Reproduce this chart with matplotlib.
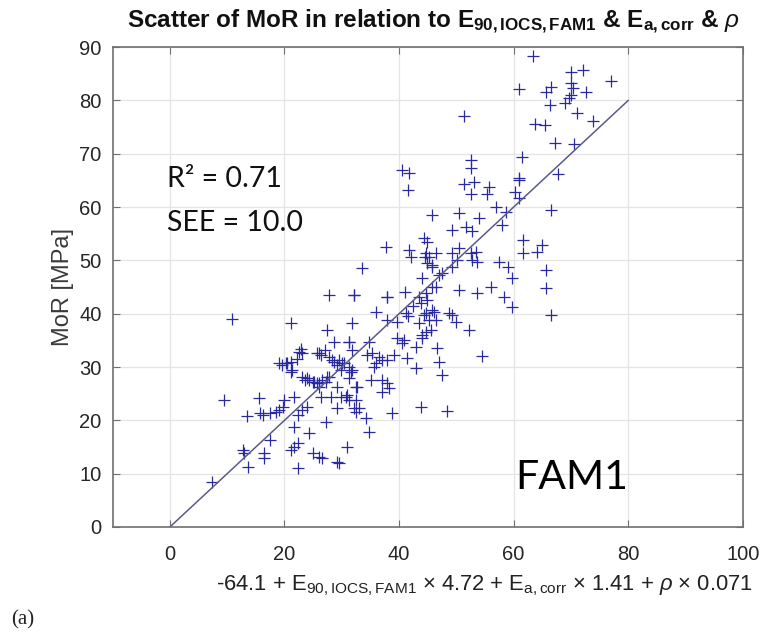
import numpy as np
import matplotlib
matplotlib.use("Agg")
import matplotlib.pyplot as plt

pred = [63.3, 70.1, 72.2, 77.0, 60.9, 65.6, 66.6, 70.1, 70.4, 70.1, 69.6, 72.7,
        66.4, 69.0, 71.0, 73.9, 63.8, 65.4, 67.3, 70.6, 61.4, 67.8, 52.5, 52.5,
        60.9, 51.3,
        51.3, 53.0, 52.5, 55.7, 55.3, 60.9, 60.3, 60.9, 57.0, 58.6, 57.9, 66.6,
        45.7, 50.4, 49.2, 51.7, 52.7, 53.9, 44.3, 44.9, 44.7, 45.2, 45.7, 49.2,
        50.4, 52.5, 52.7, 53.6, 53.4, 57.4, 59.1, 59.7, 61.7, 61.7, 64.0, 64.9,
        65.7, 65.7, 47.5, 47.0, 44.0, 50.4, 53.6, 56.0, 58.3, 45.7, 44.7, 59.7,
        66.6, 46.1, 49.2, 49.9, 52.2, 46.6, 47.0, 47.5, 54.4, 43.8, 48.3, 44.7,
        45.2, 45.6, 44.0,
        40.5, 41.7, 41.6, 41.7, 42.1, 44.5, 44.9, 46.4, 45.7, 37.7, 33.6, 32.2,
        37.9, 46.4, 49.2, 50.1, 43.5, 44.9, 41.0, 42.5, 41.5,
        36.0, 37.9, 39.7, 41.2, 31.8, 43.8, 43.5, 44.3, 45.7, 46.4, 44.7, 44.0,
        48.7, 39.7, 40.9, 40.5, 43.0, 31.3, 31.8, 34.8, 34.4, 35.3, 36.5, 37.0,
        37.9, 39.1, 41.4, 43.0, 36.0, 35.7, 31.3, 31.7, 31.3, 30.1, 29.6, 35.1,
        37.0, 37.9, 38.3, 37.0, 32.7, 30.8, 31.3, 32.2, 32.5, 34.3, 34.8, 31.0,
        29.6, 38.8,
        10.8, 21.2, 27.5, 28.7, 22.8, 23.0, 26.1, 27.0, 27.8, 19.1, 20.3, 21.2,
        22.1, 28.3, 29.2, 29.9, 21.2, 23.0, 23.5, 24.3, 25.2, 26.1, 26.6, 27.5,
        26.1, 9.4, 15.5, 20.0, 19.7, 19.1, 21.7, 13.4, 15.7, 16.2, 17.4, 18.6,
        26.4, 28.2, 29.2, 23.1, 22.3, 24.0, 21.7, 24.3, 27.3, 17.4, 22.3, 21.7,
        21.2, 12.7, 13.0, 16.5, 16.5, 13.6, 22.3, 24.9, 26.1, 26.6, 29.2, 7.3,
        29.9, 29.2,
        27.8, 31.3, 19.5, 20.5, 21.4, 22.6, 25.7, 26.4, 28.7, 30.4, 31.8, 32.5,
        31.0, 32.5, 33.0, 24.0, 24.9, 25.7, 27.3, 27.8, 32.2, 37.9]
mor = [88.3, 85.3, 85.7, 83.6, 82.1, 81.6, 82.5, 83.2, 82.3, 81.0, 80.4, 81.6,
       79.1, 79.5, 77.6, 76.1, 75.6, 75.4, 72.0, 71.8, 69.4, 66.2, 68.8, 67.3,
       65.4, 77.1,
       64.3, 64.7, 62.4, 63.7, 62.4, 65.1, 62.8, 61.7, 60.0, 59.1, 56.6, 59.4,
       58.5, 58.9, 55.7, 56.3, 55.5, 57.9, 54.2, 53.4, 51.4, 50.6, 49.1, 51.4,
       52.3, 51.4, 50.1, 49.7, 51.6, 49.7, 48.8, 46.7, 53.8, 51.4, 51.6, 52.9,
       48.2, 44.8, 47.6, 47.3, 46.7, 44.4, 43.9, 45.0, 43.1, 45.0, 43.9, 41.3,
       39.7, 40.3, 39.7, 38.4, 36.9, 33.6, 30.9, 28.5, 32.1, 22.5, 21.8, 40.1,
       38.8, 36.9, 36.0,
       67.0, 66.4, 63.2, 52.0, 50.6, 50.6, 49.5, 51.4, 48.8, 52.5, 48.6, 43.5,
       43.1, 45.0, 48.8, 50.1, 43.1, 42.6, 44.0, 41.5, 39.5,
       40.3, 38.8, 38.4, 40.1, 38.3, 42.0, 38.3, 39.7, 40.7, 38.8, 36.6, 35.4,
       40.1, 35.4, 35.1, 34.5, 33.8, 34.7, 33.2, 34.7, 32.3, 32.6, 31.9, 31.3,
       31.3, 32.3, 31.7, 29.8, 30.8, 30.0, 30.0, 29.1, 27.9, 30.8, 31.3, 27.6,
       27.6, 27.0, 26.1, 25.3, 26.3, 24.4, 23.8, 22.3, 21.6, 20.4, 17.8, 15.0,
       12.0, 21.4,
       39.0, 38.3, 36.9, 34.7, 33.4, 32.6, 32.6, 33.2, 31.9, 30.8, 30.8, 30.9,
       31.5, 31.3, 30.4, 29.4, 29.1, 28.1, 27.6, 27.6, 27.2, 27.0, 27.6, 28.1,
       26.3, 23.8, 24.2, 23.8, 22.5, 21.9, 24.4, 20.8, 21.4, 21.0, 21.4, 21.6,
       24.4, 24.4, 22.3, 21.9, 21.0, 22.5, 18.8, 17.6, 19.7, 16.3, 15.8, 15.0,
       14.4, 14.4, 13.9, 13.9, 12.9, 11.3, 11.1, 13.9, 13.1, 12.9, 12.2, 8.4,
       24.4, 26.3,
       43.5, 34.7, 30.4, 30.8, 29.4, 32.8, 32.6, 32.3, 30.9, 30.8, 29.4, 26.3,
       24.8, 23.8, 22.3, 27.9, 27.2, 27.0, 27.2, 28.1, 43.5, 43.1]

fit_x = [0, 80]
fit_y = [0, 80]

xticks = [0, 20, 40, 60, 80, 100]
yticks = [0, 10, 20, 30, 40, 50, 60, 70, 80, 90]

sans = "Liberation Sans"
plt.rcParams["font.family"] = [sans, "DejaVu Sans"]
plt.rcParams["mathtext.fontset"] = "custom"
plt.rcParams["mathtext.rm"] = sans
plt.rcParams["mathtext.bf"] = sans + ":bold"
plt.rcParams["mathtext.it"] = sans + ":italic"

fig = plt.figure(figsize=(7.61, 6.33), dpi=100)
ax = fig.add_axes([0.148, 0.1675, 0.828, 0.758])

ax.plot(pred, mor, "+", color="#2a2aa0", markersize=8, markeredgewidth=0.9)
ax.plot(fit_x, fit_y, "-", color="#5a5a8a", linewidth=1.1)

ax.set_xlim(-10, 100)
ax.set_ylim(0, 90)
ax.set_xticks(xticks)
ax.set_yticks(yticks)
ax.grid(True, color="#e4e4e4", linewidth=0.9)
ax.set_axisbelow(True)
for s in ax.spines.values():
    s.set_color("#707070")
    s.set_linewidth(1.2)
ax.tick_params(direction="in", top=True, right=True, length=5, color="#707070",
               labelsize=14.5, labelcolor="#262626")
ax.tick_params(axis="x", pad=13)
ax.tick_params(axis="y", pad=8)

fig.text(0.083, 0.547, "MoR [MPa]", rotation=90, ha="center", va="center",
         fontsize=17, color="#3a3a3a")

fig.text(0.167, 0.956,
         r"Scatter of MoR in relation to E$_{\mathbf{90,IOCS,FAM1}}$ & E$_{\mathbf{a,corr}}$ & $\rho$",
         ha="left", va="baseline", fontsize=17.5, fontweight="bold", color="#111111")
fig.text(0.284, 0.074,
         r"-64.1 + E$_{\mathrm{90,IOCS,FAM1}}$ $\times$ 4.72 + E$_{\mathrm{a,corr}}$ $\times$ 1.41 + $\rho$ $\times$ 0.071",
         ha="left", va="center", fontsize=15.8, color="#222222")
fig.text(0.014, 0.014, "(a)", fontsize=15, family="Liberation Serif", color="#222222")

ax.text(-0.5, 63.7, "R² = 0.71", fontsize=20.5, family=["Lato", "DejaVu Sans"], color="#111111")
ax.text(-0.5, 55.5, "SEE = 10.0", fontsize=20.5, family=["Lato", "DejaVu Sans"], color="#111111")
ax.text(60.3, 7.1, "FAM1", fontsize=29.5, family=["Lato", "DejaVu Sans"], color="#000000")

fig.savefig("out.png", dpi=100)
